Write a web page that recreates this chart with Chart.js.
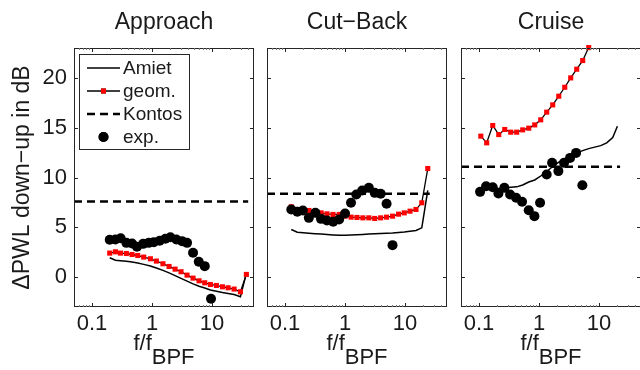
<!DOCTYPE html>
<html>
<head>
<meta charset="utf-8">
<script src="https://cdn.jsdelivr.net/npm/chart.js@4.4.1/dist/chart.umd.min.js"></script>
<style>
html, body { margin: 0; padding: 0; background: #fff; width: 640px; height: 370px; overflow: hidden; position: relative; }
canvas { position: absolute; top: 0; }
</style>
</head>
<body>
<canvas id="approach" width="260" height="370" style="left:0px"></canvas>
<canvas id="cutback" width="194" height="370" style="left:260px"></canvas>
<canvas id="cruise" width="194" height="370" style="left:454px"></canvas>
<script>
// Axis setup (log x, linear y), shared by the three panels
const xMin = 0.05, xMax = 50;
const yMin = -3, yMax = 23;
const xMajorTicks = [0.1, 1, 10];
const xMinorTicks = [0.06, 0.07, 0.08, 0.09, 0.2, 0.3, 0.4, 0.5, 0.6, 0.7, 0.8, 0.9,
                     2, 3, 4, 5, 6, 7, 8, 9, 20, 30, 40];
const yMajorTicks = [0, 5, 10, 15, 20];
const yLabel = 'ΔPWL down−up in dB';
const xLabelMain = 'f/f';
const xLabelSub = 'BPF';
const legendOrder = ['Amiet', 'geom.', 'Kontos', 'exp.'];

// Approach
const approachGeomX  = [0.197, 0.245, 0.297, 0.373, 0.464, 0.577, 0.726, 0.938, 1.18, 1.52, 1.92, 2.42,
                        3.04, 3.83, 4.82, 6.07, 7.55, 9.38, 11.8, 14.9, 18.5, 23.3, 29.7, 37.3];
const approachGeomY  = [2.41, 2.54, 2.41, 2.37, 2.27, 2.17, 2.01, 1.84, 1.61, 1.34, 1.07, 0.80,
                        0.54, 0.20, -0.10, -0.37, -0.57, -0.74, -0.84, -0.97, -1.07, -1.20, -1.47, 0.27];
const approachAmietY = [1.94, 1.70, 1.65, 1.60, 1.52, 1.42, 1.28, 1.12, 0.92, 0.68, 0.42, 0.15,
                        -0.12, -0.40, -0.68, -0.92, -1.10, -1.30, -1.42, -1.55, -1.65, -1.75, -1.97, 0.40];
const approachExpX   = [0.197, 0.245, 0.30, 0.373, 0.464, 0.56, 0.71, 0.88, 1.07, 1.34, 1.67, 2.02,
                        2.54, 3.16, 3.83, 4.82, 6.0, 7.55, 9.6];
const approachExpY   = [3.75, 3.78, 3.91, 3.44, 3.38, 3.04, 3.34, 3.44, 3.51, 3.65, 3.85, 4.01,
                        3.78, 3.61, 3.44, 2.44, 1.54, 1.10, -2.17];
const approachKontosX = [0.05, 40];
const approachKontosY = [7.6, 7.6];

// Cut-Back
const cutbackGeomX  = [0.127, 0.16, 0.20, 0.25, 0.316, 0.40, 0.50, 0.63, 0.80, 1.0, 1.26, 1.58,
                       1.98, 2.49, 3.12, 3.92, 4.92, 6.2, 7.8, 9.7, 12.1, 15.2, 19.0, 23.9];
const cutbackGeomY  = [7.06, 6.79, 6.72, 6.69, 6.56, 6.45, 6.35, 6.29, 6.29, 6.12, 6.02, 5.99,
                       5.95, 5.95, 5.89, 5.95, 6.02, 6.12, 6.32, 6.45, 6.62, 6.79, 7.46, 10.9];
const cutbackAmietY = [4.78, 4.50, 4.45, 4.40, 4.36, 4.32, 4.28, 4.24, 4.20, 4.20, 4.22, 4.25,
                       4.28, 4.32, 4.35, 4.38, 4.41, 4.43, 4.47, 4.52, 4.60, 4.68, 4.95, 8.70];
const cutbackExpX   = [0.127, 0.16, 0.198, 0.249, 0.32, 0.397, 0.499, 0.634, 0.796, 1.0, 1.256, 1.54,
                       1.93, 2.49, 3.12, 3.92, 4.92, 6.18];
const cutbackExpY   = [6.79, 6.56, 6.69, 5.95, 6.45, 5.85, 5.69, 5.55, 5.79, 6.39, 7.46, 8.29,
                       8.70, 8.96, 8.46, 8.36, 7.36, 3.21];
const cutbackKontosX = [0.05, 25.8];
const cutbackKontosY = [8.36, 8.36];

// Cruise
const cruiseGeomX  = [0.107, 0.134, 0.169, 0.213, 0.268, 0.337, 0.424, 0.534, 0.673, 0.847, 1.066, 1.34,
                      1.69, 2.13, 2.68, 3.37, 4.24, 5.34, 6.72];
const cruiseGeomY  = [14.15, 13.48, 15.22, 14.31, 14.82, 14.55, 14.55, 14.78, 14.95, 15.28, 15.79, 16.56,
                      17.29, 18.16, 19.06, 20.0, 20.87, 21.74, 23.04];
const cruiseAmietX = [0.107, 0.134, 0.169, 0.213, 0.268, 0.337, 0.424, 0.534, 0.673, 0.847, 1.066, 1.34,
                      1.69, 2.13, 2.68, 3.37, 4.24, 5.34, 6.72, 8.46, 10.66, 13.4, 16.9, 20.2];
const cruiseAmietY = [8.90, 8.90, 8.90, 8.90, 8.95, 9.02, 9.06, 9.25, 9.55, 9.75, 10.15, 10.6,
                      11.1, 11.55, 11.9, 12.2, 12.47, 12.7, 12.9, 13.05, 13.2, 13.48, 14.0, 15.15];
const cruiseExpX   = [0.104, 0.131, 0.169, 0.21, 0.264, 0.329, 0.414, 0.521, 0.673, 0.836, 1.04, 1.34,
                      1.65, 2.10, 2.61, 3.29, 4.14, 5.27];
const cruiseExpY   = [8.56, 9.13, 9.03, 8.39, 8.96, 8.29, 7.96, 7.56, 6.72, 6.12, 7.46, 10.3,
                      11.47, 10.64, 11.47, 11.97, 12.47, 9.23];
const cruiseKontosX = [0.05, 22.4];
const cruiseKontosY = [11.07, 11.07];

const FONT = '"Liberation Sans", Arial, Helvetica, sans-serif';
const INK = '#1a1a1a';

function pts(xs, ys) {
    return xs.map((x, i) => ({x: x, y: ys[i]}));
}

// Box round the axes with inward ticks, Matlab style
const axesBox = {
    id: 'axesBox',
    afterDraw(chart) {
        const {ctx, chartArea: a, scales: {x, y}} = chart;
        ctx.save();
        ctx.strokeStyle = '#262626';
        ctx.lineWidth = 1;
        ctx.strokeRect(a.left + 0.5, a.top + 0.5, a.right - a.left - 1, a.bottom - a.top - 1);
        ctx.beginPath();
        yMajorTicks.forEach(v => {
            const py = Math.round(y.getPixelForValue(v)) + 0.5;
            ctx.moveTo(a.left, py); ctx.lineTo(a.left + 4, py);
            ctx.moveTo(a.right, py); ctx.lineTo(a.right - 4, py);
        });
        xMajorTicks.forEach(v => {
            const px = Math.round(x.getPixelForValue(v)) + 0.5;
            ctx.moveTo(px, a.bottom); ctx.lineTo(px, a.bottom - 4);
            ctx.moveTo(px, a.top); ctx.lineTo(px, a.top + 4);
        });
        ctx.stroke();
        ctx.beginPath();
        ctx.strokeStyle = '#777';
        xMinorTicks.forEach(v => {
            const px = Math.round(x.getPixelForValue(v)) + 0.5;
            if (px > a.right - 1) return;
            ctx.moveTo(px, a.bottom); ctx.lineTo(px, a.bottom - 2);
            ctx.moveTo(px, a.top); ctx.lineTo(px, a.top + 2);
        });
        ctx.stroke();
        ctx.restore();
    }
};

// Panel title and the subscripted x label
const panelText = {
    id: 'panelText',
    afterDraw(chart, args, opts) {
        const {ctx, chartArea: a} = chart;
        const cx = (a.left + a.right) / 2;
        ctx.save();
        ctx.fillStyle = INK;
        ctx.textBaseline = 'alphabetic';
        ctx.textAlign = 'center';
        ctx.font = '23px ' + FONT;
        ctx.fillText(opts.title, cx, 29);
        ctx.font = '22px ' + FONT;
        const w1 = ctx.measureText(xLabelMain).width;
        const w2 = ctx.measureText(xLabelSub).width;
        const x0 = cx - (w1 + w2) / 2;
        ctx.textAlign = 'left';
        ctx.fillText(xLabelMain, x0, 350);
        ctx.fillText(xLabelSub, x0 + w1, 364);
        ctx.restore();
    }
};

// Legend box inside the first panel
const boxLegend = {
    id: 'boxLegend',
    afterDraw(chart, args, opts) {
        if (!opts.show) return;
        const {ctx, chartArea: a} = chart;
        const left = a.left + 5, top = a.top + 6, w = 110, h = 95;
        ctx.save();
        ctx.fillStyle = '#fff';
        ctx.fillRect(left, top, w, h);
        ctx.strokeStyle = '#262626';
        ctx.lineWidth = 1;
        ctx.strokeRect(left + 0.5, top + 0.5, w, h);
        const x1 = left + 8, x2 = left + 41, xm = (x1 + x2) / 2;
        legendOrder.forEach((name, i) => {
            const ds = chart.data.datasets.find(d => d.label === name);
            const yy = top + 14 + i * 23;
            if (ds.showLine !== false) {
                ctx.beginPath();
                ctx.strokeStyle = ds.borderColor;
                ctx.lineWidth = ds.borderWidth;
                ctx.setLineDash(ds.borderDash || []);
                ctx.moveTo(x1, yy); ctx.lineTo(x2, yy);
                ctx.stroke();
                ctx.setLineDash([]);
            }
            if (ds.pointRadius > 0) {
                Chart.helpers.drawPoint(ctx, {
                    pointStyle: ds.pointStyle, radius: ds.pointRadius, borderWidth: 0, rotation: 0
                }, xm, yy);
                ctx.fillStyle = ds.pointBackgroundColor;
                ctx.fill();
            }
            ctx.fillStyle = INK;
            ctx.font = '19px ' + FONT;
            ctx.textBaseline = 'middle';
            ctx.textAlign = 'left';
            ctx.fillText(name, x2 + 3, yy + 1);
        });
        ctx.restore();
    }
};

function makePanel(id, title, d, first) {
    return new Chart(id, {
        type: 'line',
        data: {
            datasets: [
                {label: 'exp.', data: pts(d.expX, d.expY), showLine: false, pointStyle: 'circle',
                 pointRadius: 5, pointBackgroundColor: '#000', pointBorderWidth: 0, order: 0, clip: false},
                {label: 'Kontos', data: pts(d.kontosX, d.kontosY), borderColor: '#000', borderWidth: 2.5,
                 borderDash: [8, 5], pointRadius: 0, order: 1, clip: false},
                {label: 'geom.', data: pts(d.geomX, d.geomY), borderColor: '#000', borderWidth: 1.3,
                 pointStyle: 'rect', pointRadius: 3.6, pointBackgroundColor: '#ff0000', pointBorderWidth: 0,
                 order: 2, clip: false},
                {label: 'Amiet', data: pts(d.amietX, d.amietY), borderColor: '#000', borderWidth: 1.5,
                 pointRadius: 0, order: 3, clip: false}
            ]
        },
        options: {
            responsive: false,
            animation: false,
            events: [],
            layout: {padding: first ? {left: 0, right: 6, top: 48, bottom: 0}
                                    : {left: 7, right: 7, top: 48, bottom: 0}},
            plugins: {
                legend: {display: false},
                tooltip: {enabled: false},
                panelText: {title: title},
                boxLegend: {show: first}
            },
            scales: {
                x: {
                    type: 'logarithmic', min: xMin, max: xMax,
                    grid: {display: false, drawTicks: false}, border: {display: false},
                    afterBuildTicks: s => { s.ticks = xMajorTicks.map(v => ({value: v})); },
                    afterFit: s => { s.height = 63; },
                    ticks: {callback: v => String(v), color: INK, font: {family: FONT, size: 22},
                            padding: 4, maxRotation: 0, autoSkip: false}
                },
                y: {
                    min: yMin, max: yMax, display: first,
                    grid: {display: false, drawTicks: false}, border: {display: false},
                    afterBuildTicks: s => { s.ticks = yMajorTicks.map(v => ({value: v})); },
                    afterFit: first ? (s => { s.width = 74; }) : undefined,
                    ticks: {color: INK, font: {family: FONT, size: 22}, padding: 7},
                    title: {display: true, text: yLabel, color: INK, font: {family: FONT, size: 23},
                            padding: {top: 9, bottom: 0}}
                }
            }
        },
        plugins: [axesBox, panelText, boxLegend]
    });
}

makePanel('approach', 'Approach', {
    geomX: approachGeomX, geomY: approachGeomY,
    amietX: approachGeomX, amietY: approachAmietY,
    expX: approachExpX, expY: approachExpY,
    kontosX: approachKontosX, kontosY: approachKontosY
}, true);

makePanel('cutback', 'Cut−Back', {
    geomX: cutbackGeomX, geomY: cutbackGeomY,
    amietX: cutbackGeomX, amietY: cutbackAmietY,
    expX: cutbackExpX, expY: cutbackExpY,
    kontosX: cutbackKontosX, kontosY: cutbackKontosY
}, false);

makePanel('cruise', 'Cruise', {
    geomX: cruiseGeomX, geomY: cruiseGeomY,
    amietX: cruiseAmietX, amietY: cruiseAmietY,
    expX: cruiseExpX, expY: cruiseExpY,
    kontosX: cruiseKontosX, kontosY: cruiseKontosY
}, false);
</script>
</body>
</html>
